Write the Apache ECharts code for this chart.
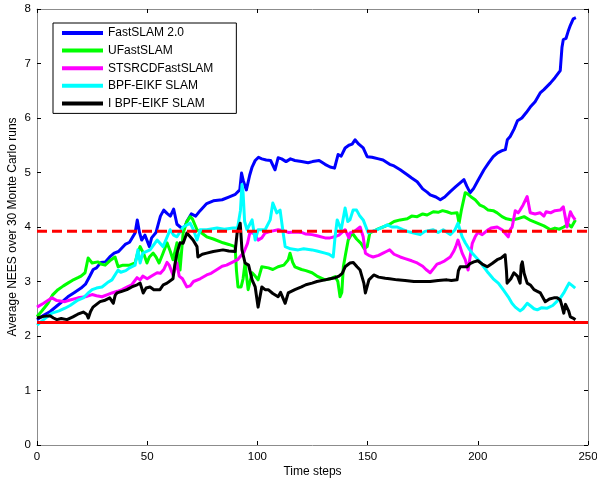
<!DOCTYPE html>
<html>
<head>
<meta charset="utf-8">
<script src="https://cdn.jsdelivr.net/npm/echarts@6/dist/echarts.min.js"></script>
<style>html,body{margin:0;padding:0;background:#fff}#c{width:597px;height:480px}</style>
</head>
<body>
<div id="c"></div>
<script>
const seriesNames = ['FastSLAM 2.0','UFastSLAM','STSRCDFastSLAM','BPF-EIKF SLAM','I BPF-EIKF SLAM'];
const xTicks = [0,50,100,150,200,250];
const yTicks = [0,1,2,3,4,5,6,7,8];
const boundLower = 2.25;
const boundUpper = 3.92;

const fastslam2 = [[0,2.3],[3,2.38],[6,2.45],[9,2.55],[12,2.65],[14,2.72],[17,2.8],[20,2.88],[22,2.95],[24,3.1],[25.5,3.22],[27,3.25],[29,3.35],[31,3.36],[33,3.45],[35,3.52],[37,3.55],[40,3.68],[42,3.72],[44.5,3.89],[45.5,4.13],[46.5,3.9],[47.5,3.76],[49,3.85],[51,3.64],[52,3.8],[54,3.9],[56,4.2],[57.5,4.31],[59,4.25],[60.5,4.2],[62,4.33],[63.5,4.05],[65,4.0],[66.5,3.95],[68,4.1],[70,4.24],[72,4.2],[74,4.3],[77,4.43],[80,4.48],[84,4.5],[87,4.55],[90,4.6],[92,4.68],[92.8,4.99],[93.6,4.85],[95,4.68],[96.5,4.95],[97.6,5.1],[99,5.22],[100.5,5.28],[102,5.25],[104,5.23],[106,5.22],[108,5.05],[109.4,5.27],[111,5.25],[113,5.2],[115,5.25],[117,5.22],[120,5.2],[123,5.18],[125,5.2],[128,5.22],[130.7,5.15],[133,5.1],[135,5.08],[136.6,5.33],[138,5.3],[139.8,5.45],[141.5,5.5],[143,5.52],[144.3,5.6],[146,5.52],[148,5.45],[149.8,5.29],[152,5.28],[155,5.25],[157,5.23],[160,5.15],[162,5.12],[164.8,5.05],[168,4.96],[170,4.9],[172.5,4.83],[175,4.7],[177,4.64],[178.4,4.59],[181,4.55],[183,4.5],[185,4.55],[187.5,4.65],[190,4.74],[192,4.81],[193.7,4.87],[195,4.75],[196.5,4.63],[198,4.7],[200,4.85],[202.8,5.05],[205,5.18],[207,5.29],[209,5.36],[211,5.4],[212.5,5.42],[213.4,5.6],[214.7,5.66],[216.5,5.8],[218,5.95],[220,6.0],[222,6.1],[223.8,6.2],[226,6.3],[228.3,6.46],[230,6.52],[232.9,6.64],[235,6.74],[237.4,6.87],[238.2,7.3],[238.8,7.44],[240,7.46],[241,7.59],[242,7.7],[243.3,7.82],[244.5,7.84]];

const ufastslam = [[0,2.36],[2,2.45],[5,2.6],[7,2.75],[9.5,2.85],[12,2.92],[14,2.97],[16,3.02],[18.6,3.07],[20,3.1],[21.8,3.16],[23.2,3.43],[25,3.34],[27.7,3.36],[29,3.32],[30.9,3.3],[33,3.38],[35.4,3.45],[36.8,3.27],[39,3.3],[42,3.3],[44.5,3.34],[45.5,3.5],[46.8,3.64],[48.5,3.5],[49.9,3.34],[51,3.45],[52.7,3.52],[54,3.45],[55.4,3.34],[57,3.5],[59,3.71],[60.5,3.55],[61.7,3.4],[63.5,3.71],[64.9,3.21],[66.3,3.89],[68,4.1],[69.5,4.19],[70.5,4.15],[72.6,3.95],[75,3.88],[77,3.82],[80,3.78],[84.4,3.71],[87,3.68],[89.9,3.64],[90.5,3.2],[91.2,2.9],[92.6,2.9],[93.5,3.05],[94.4,3.34],[95.8,2.85],[97.6,3.16],[99,3.1],[100.3,3.03],[102,3.27],[105,3.25],[107,3.22],[109.4,3.27],[112,3.3],[114,3.4],[114.8,3.52],[116,3.35],[117,3.27],[120,3.22],[122,3.2],[124.8,3.16],[127,3.1],[130.7,3.03],[133,3.05],[135.3,3.09],[136.5,3.0],[137.5,2.72],[138.3,2.8],[139,3.27],[140,3.5],[141.2,3.76],[143,3.89],[145,3.78],[147,3.7],[148.5,3.6],[149.8,3.64],[151,3.89],[154,3.95],[157,4.0],[160,4.05],[162,4.1],[164.8,4.13],[168,4.15],[170,4.2],[172.5,4.19],[175,4.24],[177,4.22],[179.8,4.28],[182,4.27],[184,4.3],[186,4.28],[188,4.25],[190.6,4.26],[191.5,4.07],[192.5,4.3],[194.3,4.63],[195.7,4.6],[197,4.55],[198.8,4.5],[201,4.4],[202.8,4.37],[204.7,4.31],[207,4.3],[208.8,4.26],[211,4.19],[213,4.15],[215.6,4.13],[218,4.15],[221,4.19],[224,4.12],[227,4.07],[230,4.02],[233,3.95],[235,3.98],[237,3.96],[239,4.0],[241,4.05],[242.5,4.0],[244.3,4.13]];

const stsrcd = [[0,2.53],[3,2.6],[6.8,2.7],[9,2.65],[12.7,2.63],[15,2.66],[18.6,2.7],[22,2.72],[25,2.76],[27,2.74],[29.5,2.72],[32,2.76],[34,2.79],[36.5,2.82],[38.6,2.85],[41,2.9],[43,2.94],[45.4,3.07],[46.8,3.03],[48,3.1],[50,3.05],[52,3.1],[54.5,3.16],[56,3.15],[57.5,3.22],[59,3.35],[60,3.3],[61.7,3.12],[63.5,3.34],[64.5,3.1],[66,3.05],[68,2.9],[69.5,2.92],[71,3.0],[74,3.05],[77,3.12],[79,3.15],[81.7,3.22],[84,3.28],[86,3.3],[89,3.36],[91,3.4],[92.9,3.49],[94,3.55],[95.5,3.7],[96.5,3.88],[97.6,3.9],[99,3.85],[100.3,3.76],[102,3.8],[103.5,3.89],[106,3.92],[109.4,3.95],[112,3.93],[114,3.9],[117,3.91],[120,3.9],[122,3.87],[124.8,3.86],[127,3.84],[130.7,3.8],[133,3.8],[135,3.82],[137,3.85],[139.8,3.95],[141.5,3.8],[142,3.89],[144,3.92],[146.6,4.0],[148,3.82],[149,3.52],[150.5,3.48],[152.5,3.45],[155,3.48],[157,3.52],[158.5,3.55],[160,3.58],[162,3.5],[164.8,3.45],[167,3.42],[170,3.38],[172.5,3.34],[175,3.28],[176.5,3.22],[178.4,3.16],[180,3.24],[181.5,3.32],[183,3.34],[185,3.38],[187.5,3.45],[189,3.55],[190,3.64],[191,3.76],[192.9,3.52],[194.3,3.4],[195.6,3.21],[196.5,3.45],[197.5,3.7],[198.8,3.82],[200,3.9],[202,3.86],[204.7,3.95],[206,3.98],[208.8,4.0],[211,3.95],[213.8,3.82],[214.7,3.95],[215.6,4.0],[217,4.3],[218.3,4.26],[219.2,4.31],[220.5,4.4],[222.4,4.56],[223.8,4.26],[226,4.24],[228.3,4.26],[230,4.2],[231,4.28],[233,4.26],[235,4.3],[237.4,4.31],[238.8,4.37],[239.6,4.2],[240.5,4.0],[241.2,4.15],[242,4.28],[243,4.2],[244.2,4.13]];

const bpfEikf = [[0,2.2],[3,2.3],[6.8,2.42],[10,2.46],[12.7,2.51],[15,2.56],[18.6,2.66],[21,2.7],[23,2.78],[25,2.85],[27,2.88],[29.5,2.9],[32,2.98],[34,3.03],[36.8,3.21],[38,3.17],[40.3,3.2],[42,3.25],[44.5,3.3],[45.8,3.58],[46.8,3.34],[48,3.52],[51.3,3.58],[54.5,3.76],[57.2,3.64],[60.4,3.95],[62,3.85],[63.5,3.82],[66.3,4.0],[69.5,4.07],[71,3.95],[72.6,3.76],[74,3.95],[77,3.95],[81.7,3.98],[85,3.96],[89,3.98],[91,3.98],[92.3,4.3],[93,4.78],[93.5,4.63],[94.2,4.1],[95.3,3.95],[97.6,4.13],[99,3.76],[100.3,3.95],[103.5,3.95],[105.8,4.13],[107,4.44],[108.8,4.26],[110.3,4.31],[111.7,3.89],[112.6,3.64],[115,3.6],[118.5,3.58],[121,3.6],[124.8,3.58],[127,3.56],[130.7,3.52],[132.5,3.5],[134.4,3.45],[135.2,3.8],[136.2,4.13],[138,3.95],[139.8,4.35],[141,4.1],[142,4.13],[143.4,4.31],[145,4.31],[146.5,4.2],[148,4.13],[150.3,3.89],[152,3.92],[154.3,3.95],[157,4.0],[158.9,4.04],[161,4.0],[163.4,4.0],[166,3.95],[168,3.92],[170,3.9],[173.9,3.86],[176,3.92],[179.8,3.95],[182,3.9],[184.3,3.95],[187.5,3.86],[189.7,3.95],[191,4.07],[192.9,3.82],[194.3,3.71],[196,3.6],[197.5,3.52],[200.2,3.4],[202.5,3.28],[204.7,3.16],[207,3.05],[209.3,2.97],[211.5,2.85],[213.8,2.72],[215.5,2.6],[217,2.53],[219.2,2.46],[220.5,2.5],[222.4,2.6],[224,2.55],[225.5,2.5],[227,2.48],[229,2.52],[231.5,2.51],[234,2.56],[236,2.64],[237.5,2.7],[239,2.79],[240.2,2.88],[241.4,2.97],[243,2.92],[244.2,2.88]];

const iBpfEikf = [[0,2.33],[3,2.36],[5.9,2.37],[7.5,2.33],[9,2.3],[11,2.32],[13.6,2.3],[16.3,2.35],[18.5,2.4],[21,2.44],[22.5,2.4],[23.3,2.33],[24.3,2.45],[25.4,2.53],[27,2.58],[28.6,2.63],[30.5,2.65],[33,2.7],[34.6,2.6],[35.5,2.75],[36.3,2.79],[38.5,2.82],[40.8,2.85],[43,2.9],[45.4,2.94],[46.8,2.97],[48.2,2.79],[49.5,2.88],[51.3,2.9],[53,2.85],[55.8,2.85],[57.3,2.94],[59,2.97],[61.7,3.05],[62.5,3.3],[63.5,3.52],[64.9,3.71],[66.3,3.7],[68,3.89],[69.5,3.82],[70.8,3.76],[72.6,3.64],[73,3.45],[75,3.5],[77,3.52],[80,3.55],[84.4,3.58],[87,3.56],[89.9,3.55],[90.8,3.89],[92.2,4.07],[93,3.58],[94.4,3.34],[96,3.3],[97.6,3.03],[99,2.9],[100.3,2.53],[102,2.9],[103.5,2.85],[104.9,2.85],[107,2.78],[109.4,2.72],[110.5,2.8],[112.6,2.6],[114,2.79],[117,2.85],[120,2.9],[122,2.94],[124.8,2.97],[127,3.0],[130.7,3.03],[133,3.05],[135.3,3.07],[137,3.1],[138.5,3.15],[139.8,3.27],[142,3.34],[143.5,3.35],[145.2,3.27],[146.6,3.21],[148.3,2.97],[149,2.79],[150.6,3.03],[152.8,3.12],[155,3.08],[158,3.06],[160,3.05],[163.4,3.03],[167,3.02],[171,3.0],[175,3.0],[178.4,3.0],[182,3.02],[186,3.03],[188,3.02],[190.6,3.03],[191.2,3.2],[192,3.27],[195.2,3.27],[196.5,3.33],[198.2,3.36],[200,3.38],[202,3.32],[204.3,3.27],[206.5,3.33],[208.8,3.4],[210.5,3.43],[212.4,3.49],[213,3.2],[213.3,2.97],[215,3.05],[216.4,3.16],[218,3.1],[219.2,2.97],[219.7,3.3],[220.2,3.36],[221,3.15],[222.4,2.97],[224,2.93],[225.5,2.85],[227,2.82],[228.4,2.79],[230.6,2.63],[232.5,2.68],[234.5,2.7],[236,2.7],[237.4,2.66],[238.2,2.55],[239,2.42],[239.8,2.58],[240.6,2.6],[241.3,2.45],[242,2.35],[243.2,2.33],[244.3,2.3]];

const seriesData = [fastslam2, ufastslam, stsrcd, bpfEikf, iBpfEikf];
const seriesColors = ['#0000ff','#00ff00','#ff00ff','#00ffff','#000000'];

const FONT = '"Liberation Sans", Arial, Helvetica, sans-serif';
const chart = echarts.init(document.getElementById('c'), null, {renderer:'canvas'});

const xMin = xTicks[0], xMax = xTicks[xTicks.length-1];
const yMin = yTicks[0], yMax = yTicks[yTicks.length-1];
const axisLineStyle = {color:'#8c8c8c', width:1};
const tickStyle = {color:'#000', width:1};

const series = seriesNames.map((n,i)=>({
  name:n, type:'line', xAxisIndex:0, yAxisIndex:0,
  data:seriesData[i], showSymbol:false, symbol:'none',
  lineStyle:{color:seriesColors[i], width:3, join:'round'},
  itemStyle:{color:seriesColors[i]},
  emphasis:{disabled:true}, z:2+i
}));
series.push({
  name:'lower', type:'line', data:[[xMin,boundLower],[xMax,boundLower]], symbol:'none',
  lineStyle:{color:'#ff0000', width:3}, z:10, emphasis:{disabled:true}
});
series.push({
  name:'upper', type:'line', data:[[xMin,boundUpper],[xMax,boundUpper]], symbol:'none',
  lineStyle:{color:'#ff0000', width:3, type:[10,5]}, z:10, emphasis:{disabled:true}
});

chart.setOption({
  animation:false,
  backgroundColor:'#fff',
  grid:{left:37, right:9, top:9, bottom:35, containLabel:false, outerBoundsMode:'none'},
  legend:{
    data:seriesNames, orient:'vertical', left:53, top:23,
    icon:'rect', itemWidth:41, itemHeight:4, itemGap:3.6,
    padding:[3,23,3,9],
    borderColor:'#000', borderWidth:1, backgroundColor:'#fff',
    textStyle:{fontFamily:FONT, fontSize:12, color:'#000', lineHeight:14},
    selectedMode:false
  },
  xAxis:[{
    type:'value', min:xMin, max:xMax, interval:50, position:'bottom',
    name:'Time steps', nameLocation:'middle', nameGap:21, nameMoveOverlap:false,
    nameTextStyle:{fontFamily:FONT, fontSize:12, color:'#000'},
    axisLine:{show:true, onZero:false, lineStyle:axisLineStyle},
    axisTick:{show:true, inside:true, length:4, lineStyle:tickStyle},
    axisLabel:{fontFamily:FONT, fontSize:11.5, color:'#000', margin:6},
    splitLine:{show:false}
  },{
    type:'value', min:xMin, max:xMax, interval:50, position:'top',
    axisLine:{show:true, onZero:false, lineStyle:axisLineStyle},
    axisTick:{show:true, inside:true, length:4, lineStyle:tickStyle},
    axisLabel:{show:false}, splitLine:{show:false}
  }],
  yAxis:[{
    type:'value', min:yMin, max:yMax, interval:1, position:'left',
    name:'Average NEES over 30 Monte Carlo runs', nameLocation:'middle', nameGap:18, nameMoveOverlap:false,
    nameTextStyle:{fontFamily:FONT, fontSize:12, color:'#000'},
    axisLine:{show:true, onZero:false, lineStyle:axisLineStyle},
    axisTick:{show:true, inside:true, length:4, lineStyle:tickStyle},
    axisLabel:{fontFamily:FONT, fontSize:11.5, color:'#000', margin:6},
    splitLine:{show:false}
  },{
    type:'value', min:yMin, max:yMax, interval:1, position:'right',
    axisLine:{show:true, onZero:false, lineStyle:axisLineStyle},
    axisTick:{show:true, inside:true, length:4, lineStyle:tickStyle},
    axisLabel:{show:false}, splitLine:{show:false}
  }],
  series:series
});
</script>
</body>
</html>
